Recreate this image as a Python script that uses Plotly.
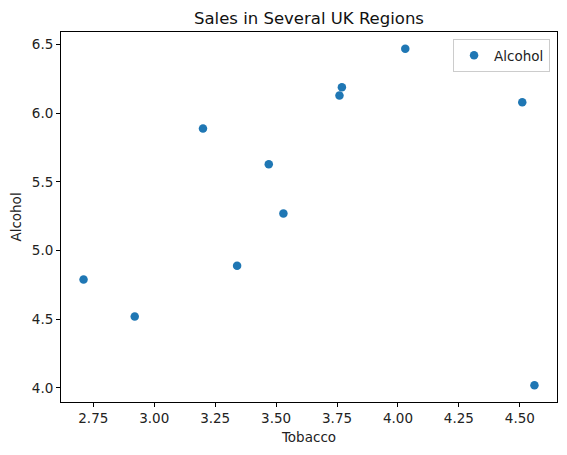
import plotly.graph_objects as go

regions = ["North", "Yorkshire", "Northeast", "East Midlands", "West Midlands",
           "East Anglia", "Southeast", "Southwest", "Wales", "Scotland", "Northern Ireland"]
alcohol = [6.47, 6.13, 6.19, 4.89, 5.63, 4.52, 5.89, 4.79, 5.27, 6.08, 4.02]
tobacco = [4.03, 3.76, 3.77, 3.34, 3.47, 2.92, 3.20, 2.71, 3.53, 4.51, 4.56]

xticks = [2.75, 3.00, 3.25, 3.50, 3.75, 4.00, 4.25, 4.50]
yticks = [4.0, 4.5, 5.0, 5.5, 6.0, 6.5]

font = dict(family="DejaVu Sans", size=13.5, color="#222222")

fig = go.Figure(go.Scatter(
    x=tobacco, y=alcohol, mode="markers", name="Alcohol", text=regions,
    marker=dict(color="#1f77b4", size=8.5), showlegend=True))

xmin, xmax = min(tobacco), max(tobacco)
ymin, ymax = min(alcohol), max(alcohol)
xm = (xmax - xmin) * 0.05
ym = (ymax - ymin) * 0.05

axis_common = dict(showgrid=False, zeroline=False, showline=True, linecolor="black",
                   linewidth=1, mirror=True, ticks="outside", ticklen=4, tickcolor="black",
                   tickfont=font)

fig.update_layout(
    width=567, height=455,
    margin=dict(l=61, r=10, t=32, b=53),
    paper_bgcolor="white", plot_bgcolor="white",
    font=font,
    title=dict(text="Sales in Several UK Regions", x=(61 + 557) / 2 / 567, xanchor="center",
               y=1 - 18 / 455, yanchor="middle",
               font=dict(family="DejaVu Sans", size=16.5, color="#111111")),
    xaxis=dict(range=[xmin - xm, xmax + xm], tickvals=xticks,
               ticktext=[f"{v:.2f}" for v in xticks],
               title=dict(text="Tobacco", font=font, standoff=7), **axis_common),
    yaxis=dict(range=[ymin - ym, ymax + ym], tickvals=yticks,
               ticktext=[f"{v:.1f}" for v in yticks],
               title=dict(text="Alcohol", font=font, standoff=7), **axis_common),
    legend=dict(x=0.986, y=0.981, xanchor="right", yanchor="top",
                bordercolor="#cccccc", borderwidth=1, bgcolor="rgba(255,255,255,0.8)",
                font=font),
)

fig.write_html("out.html")
